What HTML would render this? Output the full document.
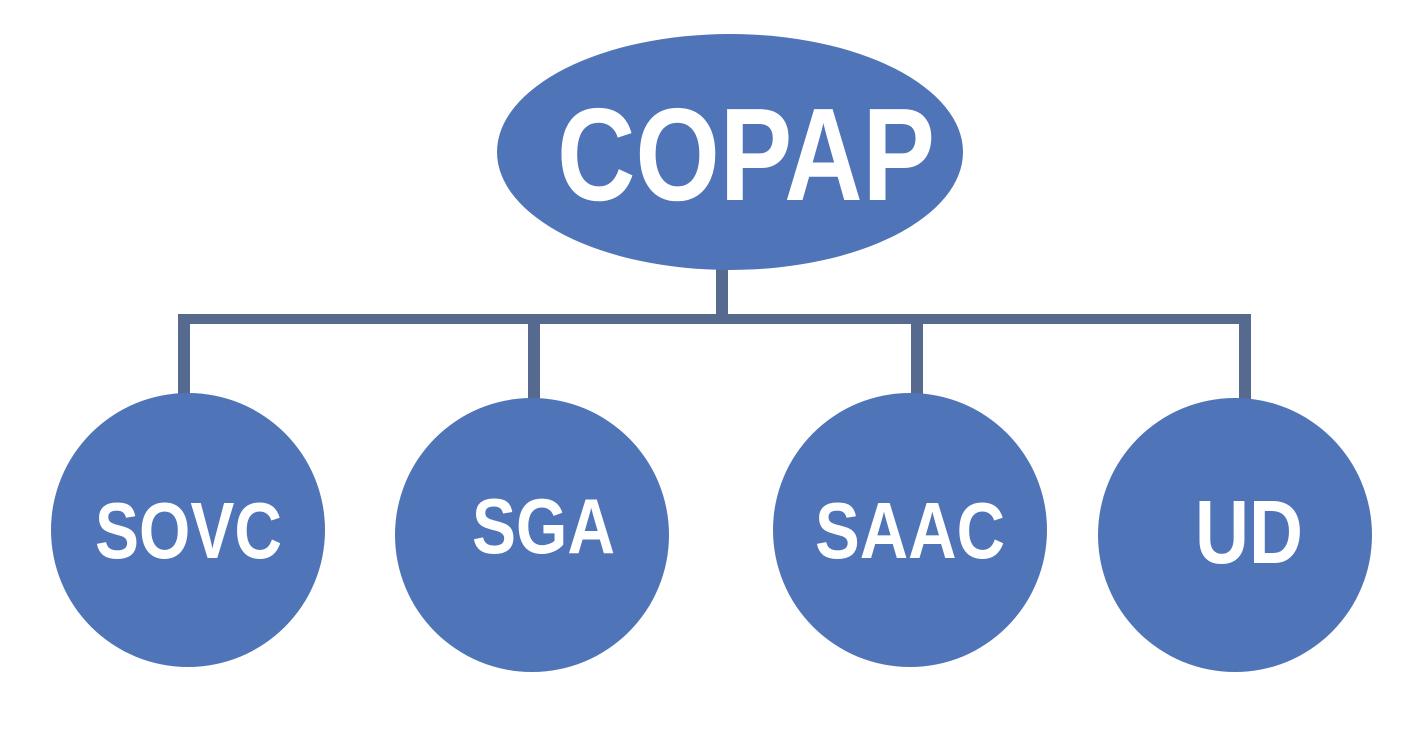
<!DOCTYPE html>
<html><head><style>html,body{margin:0;padding:0;background:#fff;}svg{display:block}</style></head>
<body>
<svg width="1419" height="742" viewBox="0 0 1419 742" xmlns="http://www.w3.org/2000/svg">
<g fill="#566a8f">
<rect x="716" y="265" width="12" height="55"/>
<rect x="178" y="314" width="1073" height="10"/>
<rect x="178" y="314" width="12" height="82"/>
<rect x="528" y="314" width="12" height="86"/>
<rect x="911" y="314" width="12" height="82"/>
<rect x="1239" y="314" width="12" height="86"/>
</g>
<g fill="#4f74b8">
<ellipse cx="730" cy="152" rx="233" ry="118"/>
<circle cx="188" cy="530" r="137"/>
<circle cx="532" cy="535" r="137"/>
<circle cx="910" cy="530" r="137"/>
<circle cx="1235" cy="535" r="137"/>
</g>
<g fill="#fff" font-family="Liberation Sans, sans-serif" font-weight="bold">
<text x="557" y="200" font-size="132" textLength="378" lengthAdjust="spacingAndGlyphs">COPAP</text>
<text x="95" y="558" font-size="80" textLength="187" lengthAdjust="spacingAndGlyphs">SOVC</text>
<text x="472" y="553" font-size="78" textLength="143" lengthAdjust="spacingAndGlyphs">SGA</text>
<text x="815" y="558" font-size="80" textLength="190" lengthAdjust="spacingAndGlyphs">SAAC</text>
<text x="1195" y="563" font-size="90" textLength="108" lengthAdjust="spacingAndGlyphs">UD</text>
</g>
</svg>
</body></html>
